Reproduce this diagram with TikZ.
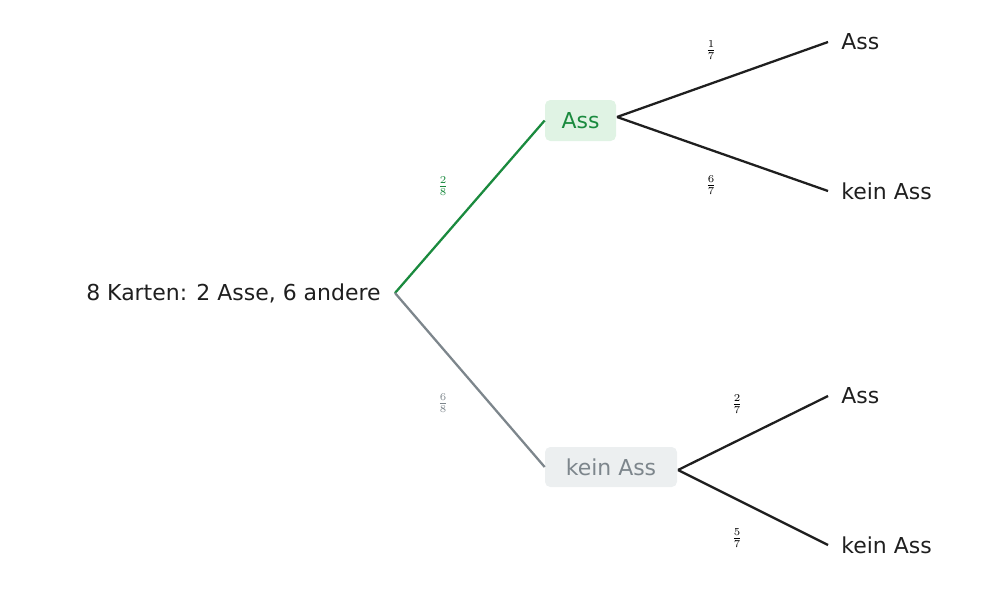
\documentclass[tikz,border=0pt]{standalone}
\usepackage{fontspec}
\setmainfont{DejaVu Sans}
\begin{document}
\begin{tikzpicture}[x=0.02cm,y=-0.02cm,
  lbl/.style={font=\fontsize{12.5}{15}\selectfont, text=black!88},
  frac/.style={font=\fontsize{9}{10}\selectfont, inner sep=0pt},
  edge/.style={line width=1.3pt, draw=black!88},
  box/.style={rounded corners=3pt, inner sep=0pt, font=\fontsize{12.5}{15}\selectfont}]
\definecolor{gA}{HTML}{1A8A3E}\definecolor{gB}{HTML}{E0F3E4}
\definecolor{sA}{HTML}{7D868C}\definecolor{sB}{HTML}{ECEFF0}
\useasboundingbox (0,0) rectangle (982,588);
\node[lbl, anchor=east, inner sep=0pt] (root) at (381,293) {8 Karten: 2 Asse, 6 andere};
\coordinate (r) at (395,293);
\node[box, fill=gB, text=gA, minimum width=71*0.02cm, minimum height=41*0.02cm] (a) at (580.5,120.5) {Ass};
\node[box, fill=sB, text=sA, minimum width=132*0.02cm, minimum height=40*0.02cm] (k) at (611,467) {kein Ass};
\draw[edge, draw=gA] (r) -- (a.west);
\draw[edge, draw=sA] (r) -- (k.west);
\node[lbl, anchor=west, inner sep=0pt] (aa) at (841,42) {Ass};
\node[lbl, anchor=west, inner sep=0pt] (ak) at (841,191) {kein Ass};
\node[lbl, anchor=west, inner sep=0pt] (ka) at (841,396) {Ass};
\node[lbl, anchor=west, inner sep=0pt] (kk) at (841,545) {kein Ass};
\coordinate (ae) at (617,117); \coordinate (ke) at (678,470);
\draw[edge] (ae) -- ([xshift=-0.26cm]aa.west);
\draw[edge] (ae) -- ([xshift=-0.26cm]ak.west);
\draw[edge] (ke) -- ([xshift=-0.26cm]ka.west);
\draw[edge] (ke) -- ([xshift=-0.26cm]kk.west);
\node[frac, text=gA] (f1) at (443,186) {$\frac{2}{8}$};
\node[frac, text=sA] (f2) at (443,403) {$\frac{6}{8}$};
\node[frac] (f3) at (711,50) {$\frac{1}{7}$};
\node[frac] (f4) at (711,185) {$\frac{6}{7}$};
\node[frac] (f5) at (737,404) {$\frac{2}{7}$};
\node[frac] (f6) at (737,538) {$\frac{5}{7}$};
\end{tikzpicture}
\end{document}
